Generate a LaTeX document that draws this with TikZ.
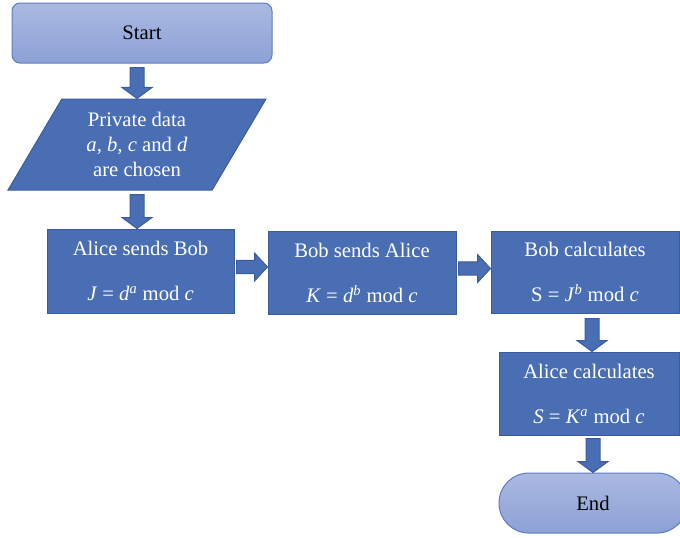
\documentclass[tikz,border=0pt]{standalone}
\usepackage{fontspec}
\setmainfont{Liberation Serif}
\usepackage{tikz}
\usetikzlibrary{shapes.geometric,calc,positioning}
\definecolor{boxblue}{HTML}{4A6EB4}
\definecolor{boxline}{HTML}{3A5C9E}
\definecolor{termtop}{HTML}{AAB9E2}
\definecolor{termbot}{HTML}{8DA1D5}
\definecolor{termline}{HTML}{5B7DC4}

% block arrow pointing down: tail point, target (x from the tail)
\newcommand{\vblock}[2]{%
  \draw[blockarr] let \p1=#1, \p2=#2 in
    (\x1-5.25pt,\y1) -- (\x1+5.25pt,\y1) -- (\x1+5.25pt,\y2+8.25pt) -- (\x1+11.25pt,\y2+8.25pt)
    -- (\x1,\y2) -- (\x1-11.25pt,\y2+8.25pt) -- (\x1-5.25pt,\y2+8.25pt) -- cycle;}
% block arrow pointing right: tail point, target (y from the tail)
\newcommand{\hblock}[2]{%
  \draw[blockarr] let \p1=#1, \p2=#2 in
    (\x1,\y1+4.9pt) -- (\x2-9.75pt,\y1+4.9pt) -- (\x2-9.75pt,\y1+10.5pt) -- (\x2,\y1)
    -- (\x2-9.75pt,\y1-10.5pt) -- (\x2-9.75pt,\y1-4.9pt) -- (\x1,\y1-4.9pt) -- cycle;}

\begin{document}
\begin{tikzpicture}[x=0.75pt,y=-0.75pt,
  font=\fontsize{15.5}{19}\selectfont,
  term/.style={draw=termline, line width=0.75pt, top color=termtop, bottom color=termbot, text=black, inner sep=0pt},
  proc/.style={draw=boxline, line width=0.75pt, fill=boxblue, text=white, align=center, inner sep=0pt},
  io/.style={trapezium, trapezium left angle=61, trapezium right angle=119, trapezium stretches=true,
    draw=boxline, line width=0.75pt, fill=boxblue, text=white, align=center, inner sep=0pt},
  blockarr/.style={draw=boxline, line width=0.75pt, fill=boxblue, line join=miter}]
\useasboundingbox (0,0) rectangle (680,537);
% ----- terminals and steps
\node[term, rounded corners=6pt, minimum width=195pt, minimum height=45pt] (start) at (142,33) {Start};
\node[io, minimum width=193.5pt, minimum height=68.25pt] (data) at (137,144.5) {Private data\\\textit{a}, \textit{b}, \textit{c} and \textit{d}\\are chosen};
\node[proc, minimum width=140.25pt, minimum height=63pt] (alice) at (140.5,271) {Alice sends Bob\\[14.75pt]\textit{J} = \textit{d}\textsuperscript{\textit{a}} mod \textit{c}};
\node[proc, minimum width=141pt, minimum height=62.25pt] (bob) at (362,272.5) {Bob sends Alice\\[14.75pt]\textit{K} = \textit{d}\textsuperscript{\textit{b}} mod \textit{c}};
\node[proc, minimum width=141pt, minimum height=61.5pt] (bobcalc) at (585,272) {Bob calculates\\[14.75pt]S = \textit{J}\textsuperscript{\textit{b}} mod \textit{c}};
\node[proc, minimum width=135pt, minimum height=62.25pt] (alicecalc) at (589,393.5) {Alice calculates\\[14.75pt]\textit{S} = \textit{K}\textsuperscript{\textit{a}} mod \textit{c}};
\node[term, rounded corners=22.4pt, minimum width=141pt, minimum height=45pt] (end) at (593,503) {End};
% ----- block arrows
\vblock{($(data.north |- start.south)+(0,4)$)}{(data.north)}
\vblock{($(data.south)+(0,4)$)}{(alice.north)}
\hblock{($(alice.east)+(2,-4)$)}{(bob.west)}
\hblock{($(bob.east)+(2,-4)$)}{(bobcalc.west)}
\vblock{($(bobcalc.south)+(7,5)$)}{(alicecalc.north)}
\vblock{($(alicecalc.south)+(4,3)$)}{(end.north)}
\end{tikzpicture}
\end{document}
